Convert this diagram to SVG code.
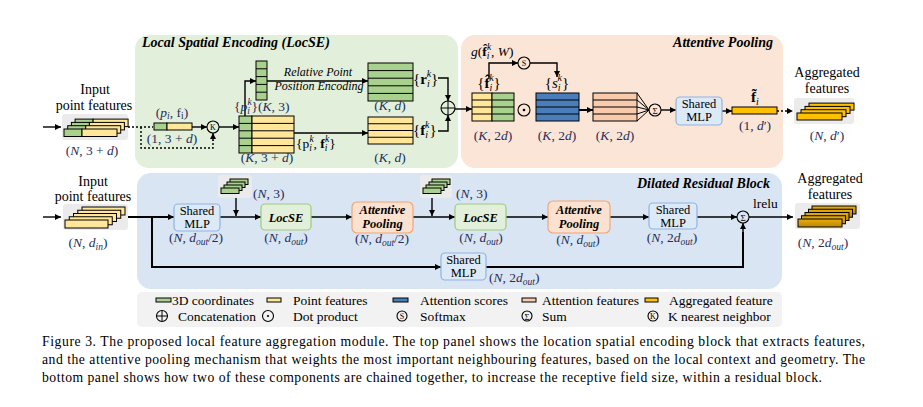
<svg xmlns="http://www.w3.org/2000/svg" width="923" height="407" viewBox="0 0 923 407">
<defs>
<marker id="ah" viewBox="0 0 10 10" refX="10" refY="5" markerWidth="7" markerHeight="6" markerUnits="userSpaceOnUse" orient="auto"><path d="M0,0L10,5L0,10z" fill="#000"/></marker>
<linearGradient id="gold" x1="0" y1="0" x2="0" y2="1"><stop offset="0" stop-color="#e9ad0c"/><stop offset="1" stop-color="#b98700"/></linearGradient>
</defs>
<style>
text{font-family:"Liberation Serif","DejaVu Serif",serif;}
.lbl{font-size:14px;fill:#000}
.lg{font-size:13.5px;fill:#000}
.m{font-size:13.5px;fill:#1f2d5a}
.i{font-style:italic}
.b{font-weight:bold}
.s{font-size:9.5px}
.ttl{font-size:14px;font-weight:bold;font-style:italic;fill:#000}
.box{font-size:12.5px;fill:#000}
.bi{font-size:12.5px;font-weight:bold;font-style:italic;fill:#000}
.ln{fill:none;stroke:#000;stroke-width:1.4}
.thk{fill:none;stroke:#000;stroke-width:2}
.arr{marker-end:url(#ah)}
.dot{stroke-dasharray:2 2}
.cell{stroke:#000;stroke-width:1}
.rl{stroke:#000;stroke-width:1;fill:none}
.g{fill:#a9d18e}
.y{fill:#ffe699}
.bl{fill:#4a7ebb}
.pe{fill:#f8cbad}
.o{fill:#ffc000}
.au{fill:url(#gold)}
.gb{fill:#ebebeb}
.mlp{fill:#dce9f7;stroke:#8fb4e3;stroke-width:1.2}
.loc{fill:#e2efda;stroke:#9ccb7e;stroke-width:1.2}
.ap{fill:#fbe1cf;stroke:#f1a674;stroke-width:1.2}
.circ{fill:none;stroke:#000;stroke-width:1.1}
.cap{font-size:13.7px;fill:#000}
.sym{font-size:8px;fill:#000}
</style>

<!-- panels -->
<g id="panels">
<rect x="135" y="35" width="323" height="133" rx="14" fill="#e2efda"/>
<rect x="461" y="35" width="322" height="133" rx="14" fill="#fbe5d6"/>
<rect x="137" y="173" width="645" height="116" rx="14" fill="#dae5f3"/>
<rect x="137" y="292" width="645" height="35" rx="5" fill="#f2f2f2"/>
<text x="142" y="47" class="ttl">Local Spatial Encoding (LocSE)</text>
<text x="773" y="47" class="ttl" text-anchor="end">Attentive Pooling</text>
<text x="770" y="188" class="ttl" text-anchor="end">Dilated Residual Block</text>
</g>

<!-- connectors -->
<g id="connectors">
<path class="ln arr" d="M43,127H61"/>
<path class="ln dot" d="M128,127H153"/>
<path class="ln dot" d="M141,127V148H213V140"/>
<path class="ln arr" d="M213,141V133"/>
<path class="ln arr" d="M192,127H207"/>
<path class="ln arr" d="M219,127H239"/>
<path class="ln arr" d="M245,116V81H256"/>
<path class="ln arr" d="M267,81H368"/>
<path class="ln arr" d="M294,133H368"/>
<path class="ln arr" d="M438,78H448V101"/>
<path class="ln arr" d="M438,131H448V115"/>
<path class="ln arr" d="M455,109H472"/>
<path class="ln arr" d="M489,78V63H518"/>
<path class="ln arr" d="M530,63H557V77"/>
<path class="thk arr" d="M579,110H593"/>
<path class="rl" d="M637,93L649,110M637,100L649,110M637,107L649,110M637,114L649,110M637,121L649,110"/>
<path class="ln arr" d="M661,110H676"/>
<path class="ln arr" d="M722,111H732"/>
<path class="ln dot arr" d="M777,111H793"/>
<path class="ln arr" d="M43,217H61"/>
<path class="thk arr" d="M128,217H174"/>
<path class="thk" d="M152,217V267H440"/>
<path class="ln arr" d="M430,267H441"/>
<path class="ln arr" d="M220,217H261"/>
<path class="ln arr" d="M236,198V216"/>
<path class="ln arr" d="M311,217H352"/>
<path class="ln arr" d="M413,217H455"/>
<path class="ln arr" d="M432,198V216"/>
<path class="ln arr" d="M506,217H548"/>
<path class="ln arr" d="M610,217H649"/>
<path class="ln arr" d="M697,217H737"/>
<path class="thk" d="M486,267H743V232"/>
<path class="ln arr" d="M743,233V223"/>
<path class="ln arr" d="M749,217H793"/>
</g>

<g id="input-top">
<text x="95" y="94" class="lbl" text-anchor="middle">Input</text>
<text x="94" y="110" class="lbl" text-anchor="middle">point features</text>
<rect x="62" y="114" width="66" height="26" rx="3" class="gb"/>
<rect x="75.1" y="119.1" width="18" height="7.5" class="cell g"/><rect x="93.1" y="119.1" width="35" height="7.5" class="cell y"/>
<rect x="71.4" y="122.4" width="18" height="7.5" class="cell g"/><rect x="89.4" y="122.4" width="35" height="7.5" class="cell y"/>
<rect x="67.7" y="125.7" width="18" height="7.5" class="cell g"/><rect x="85.7" y="125.7" width="35" height="7.5" class="cell y"/>
<rect x="64" y="129" width="18" height="7.5" class="cell g"/><rect x="82" y="129" width="35" height="7.5" class="cell y"/>
<text x="92" y="155" class="m" text-anchor="middle">(<tspan class="i">N</tspan>, 3 + <tspan class="i">d</tspan>)</text>
</g>

<g id="pifi">
<rect x="154" y="123" width="13" height="7" class="cell g"/><rect x="167" y="123" width="25" height="7" class="cell y"/>
<text x="172" y="117" class="m" text-anchor="middle">(<tspan class="i">p</tspan><tspan class="i s" dy="2">i</tspan><tspan dy="-2">, f</tspan><tspan class="s" dy="2">i</tspan><tspan dy="-2">)</tspan></text>
<text x="172" y="143" class="m" text-anchor="middle">(1, 3 + <tspan class="i">d</tspan>)</text>
</g>

<g id="knn">
<circle cx="213" cy="127" r="6" class="circ"/>
<text x="213" y="130" class="sym" text-anchor="middle">K</text>
</g>

<g id="neighbors">
<rect x="239" y="116" width="13" height="37" class="cell g"/><rect x="252" y="116" width="42" height="37" class="cell y"/>
<path class="rl" d="M239,123.4H294M239,130.8H294M239,138.2H294M239,145.6H294"/>
<text x="267" y="162" class="m" text-anchor="middle">(<tspan class="i">K</tspan>, 3 + <tspan class="i">d</tspan>)</text>
<text x="296" y="148" font-size="13.5" fill="#000">{p<tspan class="i s" dy="3">i</tspan><tspan class="i s" dx="-2.5" dy="-9">k</tspan><tspan dy="6">, </tspan><tspan class="b">f</tspan><tspan class="i s" dy="3">i</tspan><tspan class="i s" dx="-2.5" dy="-9">k</tspan><tspan dy="6">}</tspan></text>
</g>

<g id="rel-pos">
<rect x="256" y="61" width="11" height="39" class="cell g"/>
<path class="rl" d="M256,68.8H267M256,76.6H267M256,84.4H267M256,92.2H267"/>
<text x="234" y="111" class="m">{<tspan class="i">p</tspan><tspan class="i s" dy="3">i</tspan><tspan class="i s" dx="-2.5" dy="-9">k</tspan><tspan dy="6">}(</tspan><tspan class="i">K</tspan>, 3)</text>
<text x="318" y="76" font-size="12" font-style="italic" fill="#000" text-anchor="middle">Relative Point</text>
<text x="319" y="90" font-size="12" font-style="italic" fill="#000" text-anchor="middle">Position Encoding</text>
</g>

<g id="r-box">
<rect x="368" y="63" width="45" height="38" class="cell g"/>
<path class="rl" d="M368,70.6H413M368,78.2H413M368,85.8H413M368,93.4H413"/>
<text x="413" y="84" font-size="15" fill="#000">{<tspan class="b">r</tspan><tspan class="i" font-size="10" dy="3">i</tspan><tspan class="i" font-size="10" dx="-3" dy="-10">k</tspan><tspan dy="7">}</tspan></text>
<text x="390" y="110" class="m" text-anchor="middle">(<tspan class="i">K</tspan>, <tspan class="i">d</tspan>)</text>
</g>

<g id="f-box">
<rect x="368" y="117" width="45" height="27" class="cell y"/>
<path class="rl" d="M368,123.75H413M368,130.5H413M368,137.25H413"/>
<text x="413" y="135" font-size="15" fill="#000">{<tspan class="b">f</tspan><tspan class="i" font-size="10" dy="3">i</tspan><tspan class="i" font-size="10" dx="-3" dy="-10">k</tspan><tspan dy="7">}</tspan></text>
<text x="390" y="162" class="m" text-anchor="middle">(<tspan class="i">K</tspan>, <tspan class="i">d</tspan>)</text>
</g>

<g id="concat">
<circle cx="448" cy="108" r="7" class="circ"/>
<path class="rl" d="M441,108H455M448,101V115"/>
</g>

<g id="fhat">
<rect x="472" y="93" width="20" height="28" class="cell y"/><rect x="492" y="93" width="22" height="28" class="cell g"/>
<path class="rl" d="M472,100H514M472,107H514M472,114H514"/>
<text x="489" y="88" font-size="15" fill="#000" text-anchor="middle">{<tspan class="b">f̂</tspan><tspan class="i" font-size="10" dy="3">i</tspan><tspan class="i" font-size="10" dx="-3" dy="-10">k</tspan><tspan dy="7">}</tspan></text>
<text x="471" y="56" font-size="13.5" fill="#000"><tspan class="i">g</tspan>(<tspan class="b">f̂</tspan><tspan class="i s" dy="3">i</tspan><tspan class="i s" dx="-2.5" dy="-9">k</tspan><tspan dy="6">, </tspan><tspan class="i">W</tspan>)</text>
<text x="493" y="140" class="m" text-anchor="middle">(<tspan class="i">K</tspan>, 2<tspan class="i">d</tspan>)</text>
</g>

<g id="softmax">
<circle cx="524" cy="63" r="6" class="circ"/>
<text x="524" y="66" class="sym" text-anchor="middle">S</text>
</g>

<g id="dotprod">
<circle cx="524" cy="110" r="6" class="circ"/>
<circle cx="524" cy="110" r="1.3" fill="#000"/>
</g>

<g id="scores">
<rect x="536" y="93" width="43" height="28" class="cell bl"/>
<path class="rl" d="M536,100H579M536,107H579M536,114H579"/>
<text x="557" y="88" font-size="15" fill="#000" text-anchor="middle">{<tspan class="i">s</tspan><tspan class="i" font-size="10" dy="3">i</tspan><tspan class="i" font-size="10" dx="-3" dy="-10">k</tspan><tspan dy="7">}</tspan></text>
<text x="557" y="140" class="m" text-anchor="middle">(<tspan class="i">K</tspan>, 2<tspan class="i">d</tspan>)</text>
</g>

<g id="attn-feat">
<rect x="593" y="93" width="44" height="28" class="cell pe"/>
<path class="rl" d="M593,100H637M593,107H637M593,114H637"/>
<text x="615" y="140" class="m" text-anchor="middle">(<tspan class="i">K</tspan>, 2<tspan class="i">d</tspan>)</text>
</g>

<g id="sum-top">
<circle cx="655" cy="110" r="6" class="circ"/>
<text x="655" y="113.5" font-size="9" fill="#000" text-anchor="middle">Σ</text>
</g>

<g id="mlp-top">
<rect x="676" y="97" width="46" height="28" rx="4" class="mlp"/>
<text x="699" y="108" class="box" text-anchor="middle">Shared</text>
<text x="699" y="121" class="box" text-anchor="middle">MLP</text>
</g>

<g id="ftilde">
<rect x="732" y="107" width="45" height="7" class="cell o"/>
<text x="755" y="102" font-size="15" fill="#000" text-anchor="middle"><tspan class="b">f̃</tspan><tspan class="i" font-size="10" dy="3">i</tspan></text>
<text x="755" y="130" class="m" text-anchor="middle">(1, <tspan class="i">d</tspan>′)</text>
</g>

<g id="output-top">
<text x="827" y="77" class="lbl" text-anchor="middle">Aggregated</text>
<text x="827" y="93" class="lbl" text-anchor="middle">features</text>
<rect x="794" y="98" width="60" height="26" rx="3" class="gb"/>
<rect x="809" y="103.1" width="45" height="7" class="cell o"/>
<rect x="805" y="106.4" width="45" height="7" class="cell o"/>
<rect x="801" y="109.7" width="45" height="7" class="cell o"/>
<rect x="797" y="113" width="45" height="7" class="cell o"/>
<text x="827" y="140" class="m" text-anchor="middle">(<tspan class="i">N</tspan>, <tspan class="i">d</tspan>′)</text>
</g>

<g id="input-bottom">
<text x="93" y="186" class="lbl" text-anchor="middle">Input</text>
<text x="93" y="201" class="lbl" text-anchor="middle">point features</text>
<rect x="63" y="204" width="65" height="26" rx="3" class="gb"/>
<rect x="82" y="207" width="43" height="8" class="cell y"/>
<rect x="77.75" y="210.25" width="43" height="8" class="cell y"/>
<rect x="73.5" y="213.5" width="43" height="8" class="cell y"/>
<rect x="69.25" y="216.75" width="43" height="8" class="cell y"/>
<rect x="65" y="220" width="43" height="8" class="cell y"/>
<text x="88" y="247" class="m" text-anchor="middle">(<tspan class="i">N</tspan>, <tspan class="i">d</tspan><tspan class="i s" dy="3">in</tspan><tspan dy="-3">)</tspan></text>
</g>

<g id="mlp1">
<rect x="174" y="204" width="46" height="27" rx="4" class="mlp"/>
<text x="197" y="215" class="box" text-anchor="middle">Shared</text>
<text x="197" y="228" class="box" text-anchor="middle">MLP</text>
<text x="196" y="242" class="m" text-anchor="middle">(<tspan class="i">N</tspan>, <tspan class="i">d</tspan><tspan class="i s" dy="3">out</tspan><tspan dy="-3">/2)</tspan></text>
</g>

<g id="xyz1">
<rect x="218" y="175" width="34" height="23" rx="3" class="gb"/>
<rect x="230" y="179" width="18" height="5.5" class="cell g"/>
<rect x="227" y="182" width="18" height="5.5" class="cell g"/>
<rect x="224" y="185" width="18" height="5.5" class="cell g"/>
<rect x="221" y="188" width="18" height="5.5" class="cell g"/>
<text x="253" y="198" class="m">(<tspan class="i">N</tspan>, 3)</text>
</g>

<g id="locse1">
<rect x="261" y="204" width="50" height="26" rx="4" class="loc"/>
<text x="286" y="221.5" class="bi" text-anchor="middle">LocSE</text>
<text x="286" y="242" class="m" text-anchor="middle">(<tspan class="i">N</tspan>, <tspan class="i">d</tspan><tspan class="i s" dy="3">out</tspan><tspan dy="-3">)</tspan></text>
</g>

<g id="ap1">
<rect x="352" y="202" width="61" height="31" rx="5" class="ap"/>
<text x="382.5" y="214" class="bi" text-anchor="middle">Attentive</text>
<text x="382.5" y="228" class="bi" text-anchor="middle">Pooling</text>
<text x="382" y="243" class="m" text-anchor="middle">(<tspan class="i">N</tspan>, <tspan class="i">d</tspan><tspan class="i s" dy="3">out</tspan><tspan dy="-3">/2)</tspan></text>
</g>

<g id="xyz2">
<rect x="420" y="175" width="32" height="23" rx="3" class="gb"/>
<rect x="432" y="179" width="18" height="5.5" class="cell g"/>
<rect x="429" y="182" width="18" height="5.5" class="cell g"/>
<rect x="426" y="185" width="18" height="5.5" class="cell g"/>
<rect x="423" y="188" width="18" height="5.5" class="cell g"/>
<text x="456" y="198" class="m">(<tspan class="i">N</tspan>, 3)</text>
</g>

<g id="locse2">
<rect x="455" y="204" width="51" height="26" rx="4" class="loc"/>
<text x="480.5" y="221.5" class="bi" text-anchor="middle">LocSE</text>
<text x="481" y="242" class="m" text-anchor="middle">(<tspan class="i">N</tspan>, <tspan class="i">d</tspan><tspan class="i s" dy="3">out</tspan><tspan dy="-3">)</tspan></text>
</g>

<g id="ap2">
<rect x="548" y="201" width="62" height="32" rx="5" class="ap"/>
<text x="579" y="213.5" class="bi" text-anchor="middle">Attentive</text>
<text x="579" y="228" class="bi" text-anchor="middle">Pooling</text>
<text x="578" y="244" class="m" text-anchor="middle">(<tspan class="i">N</tspan>, <tspan class="i">d</tspan><tspan class="i s" dy="3">out</tspan><tspan dy="-3">)</tspan></text>
</g>

<g id="mlp3">
<rect x="649" y="203" width="48" height="26" rx="4" class="mlp"/>
<text x="673" y="214" class="box" text-anchor="middle">Shared</text>
<text x="673" y="227" class="box" text-anchor="middle">MLP</text>
<text x="672" y="242" class="m" text-anchor="middle">(<tspan class="i">N</tspan>, 2<tspan class="i">d</tspan><tspan class="i s" dy="3">out</tspan><tspan dy="-3">)</tspan></text>
</g>

<g id="mlp-short">
<rect x="441" y="253" width="45" height="27" rx="4" class="mlp"/>
<text x="463.5" y="264" class="box" text-anchor="middle">Shared</text>
<text x="463.5" y="277" class="box" text-anchor="middle">MLP</text>
<text x="489" y="282" class="m">(<tspan class="i">N</tspan>, 2<tspan class="i">d</tspan><tspan class="i s" dy="3">out</tspan><tspan dy="-3">)</tspan></text>
</g>

<g id="sum-bottom">
<circle cx="743" cy="217" r="6" class="circ"/>
<text x="743" y="220.5" font-size="9" fill="#000" text-anchor="middle">Σ</text>
<text x="753" y="208" font-size="13.5" fill="#000">lrelu</text>
</g>

<g id="output-bottom">
<text x="830" y="183" class="lbl" text-anchor="middle">Aggregated</text>
<text x="830" y="199" class="lbl" text-anchor="middle">features</text>
<rect x="795" y="203" width="65" height="26" rx="3" class="gb"/>
<rect x="812" y="206" width="44" height="8" class="cell au"/>
<rect x="808.5" y="209.25" width="44" height="8" class="cell au"/>
<rect x="805" y="212.5" width="44" height="8" class="cell au"/>
<rect x="801.5" y="215.75" width="44" height="8" class="cell au"/>
<rect x="798" y="219" width="44" height="8" class="cell au"/>
<text x="823" y="247" class="m" text-anchor="middle">(<tspan class="i">N</tspan>, 2<tspan class="i">d</tspan><tspan class="i s" dy="3">out</tspan><tspan dy="-3">)</tspan></text>
</g>

<g id="legend">
<rect x="156" y="298" width="15" height="4" class="cell g"/>
<text x="172" y="305" class="lg">3D coordinates</text>
<rect x="267" y="298" width="14" height="4" class="cell y"/>
<text x="293" y="305" class="lg">Point features</text>
<rect x="393" y="298" width="15" height="4" class="cell bl"/>
<text x="420" y="305" class="lg">Attention scores</text>
<rect x="522" y="298" width="14" height="4" class="cell pe"/>
<text x="542" y="305" class="lg">Attention features</text>
<rect x="645" y="298" width="13" height="4" class="cell o"/>
<text x="669" y="305" class="lg">Aggregated feature</text>
<circle cx="162" cy="316" r="5.5" class="circ"/><path class="rl" d="M156.5,316H167.5M162,310.5V321.5"/>
<text x="178" y="321" class="lg">Concatenation</text>
<circle cx="268" cy="316" r="5.5" class="circ"/><circle cx="268" cy="316" r="1.1" fill="#000"/>
<text x="293" y="321" class="lg">Dot product</text>
<circle cx="402" cy="316" r="5" class="circ"/><text x="402" y="319" class="sym" text-anchor="middle">S</text>
<text x="420" y="321" class="lg">Softmax</text>
<circle cx="527" cy="316" r="5" class="circ"/><text x="527" y="319.5" font-size="8.5" fill="#000" text-anchor="middle">Σ</text>
<text x="542" y="321" class="lg">Sum</text>
<circle cx="653" cy="316" r="5" class="circ"/><text x="653" y="319" class="sym" text-anchor="middle">K</text>
<text x="668" y="321" class="lg">K nearest neighbor</text>
</g>

<g id="caption">
<text x="42" y="346" class="cap" textLength="823" lengthAdjust="spacing">Figure 3. The proposed local feature aggregation module. The top panel shows the location spatial encoding block that extracts features,</text>
<text x="42" y="364" class="cap" textLength="823" lengthAdjust="spacing">and the attentive pooling mechanism that weights the most important neighbouring features, based on the local context and geometry. The</text>
<text x="42" y="382" class="cap" textLength="780" lengthAdjust="spacing">bottom panel shows how two of these components are chained together, to increase the receptive field size, within a residual block.</text>
</g>
</svg>
